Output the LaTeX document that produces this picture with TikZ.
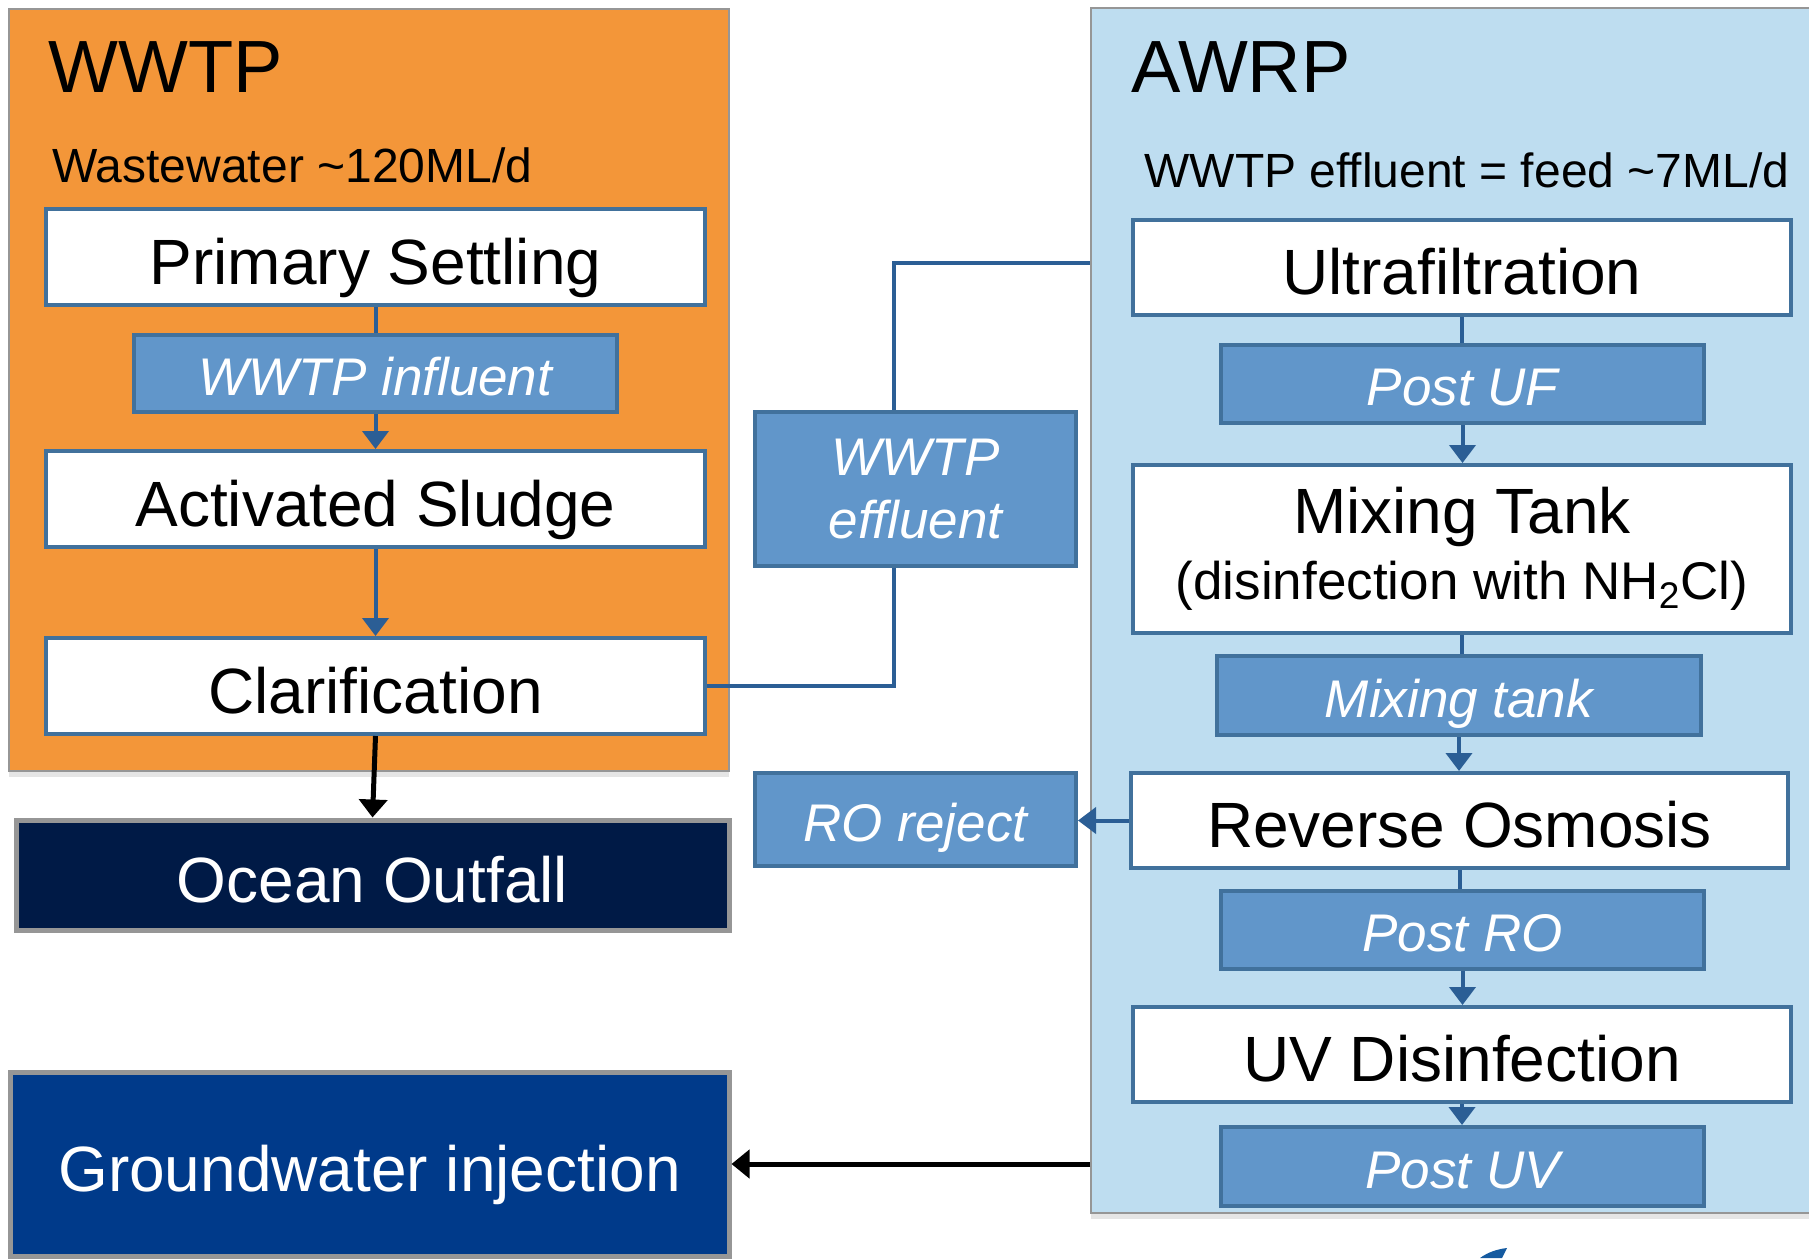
\documentclass[tikz,border=0pt]{standalone}
\usepackage{fontspec}
\setmainfont{Liberation Sans}
\usetikzlibrary{arrows.meta,fit,shadows}
\definecolor{wwtporange}{RGB}{243,150,57}
\definecolor{awrpfill}{RGB}{190,221,240}
\definecolor{outergray}{RGB}{150,150,150}
\definecolor{boxborder}{RGB}{65,113,156}
\definecolor{samplefill}{RGB}{97,150,202}
\definecolor{connblue}{RGB}{43,94,149}
\definecolor{navybox}{RGB}{0,26,70}
\definecolor{gwblue}{RGB}{0,58,138}
\definecolor{logoblue}{RGB}{20,90,160}
\begin{document}
\begin{tikzpicture}[x=0.5pt,y=-0.5pt,
  plant/.style={draw=outergray, line width=1pt, inner sep=0pt,
    drop shadow={opacity=0.2,shadow xshift=0pt,shadow yshift=-3pt}},
  procbase/.style={draw=boxborder, line width=2pt, fill=white, inner sep=0pt,
    text=black, align=center},
  proc/.style={procbase, font=\fontsize{32}{38}\selectfont,
    text height=27pt, text depth=0pt},
  samplebase/.style={draw=boxborder, line width=2pt, fill=samplefill, inner sep=0pt,
    text=white, align=center},
  sample/.style={samplebase, font=\fontsize{26.5}{31.5}\selectfont\itshape,
    text height=21.5pt, text depth=0pt},
  dest/.style={draw=outergray, line width=2.5pt, inner sep=0pt,
    font=\fontsize{32}{38}\selectfont, text=white, text height=27pt, text depth=0pt},
  title/.style={anchor=base west, inner sep=0pt, font=\fontsize{37}{44}\selectfont},
  subtitle/.style={anchor=base west, inner sep=0pt, font=\fontsize{24}{29}\selectfont},
  conn/.style={draw=connblue, line width=2pt},
  arr/.style={conn, -{Triangle[length=9pt,width=13pt]}},
  blackarr/.style={draw=black, line width=2.5pt, -{Triangle[length=9pt,width=14pt]}}
]
\useasboundingbox (0,0) rectangle (1809,1258);
\fill[white] (0,0) rectangle (1809,1258);

% plant containers
\node[plant, fill=wwtporange, fit={(9,9)(729,771)}] (wwtp) {};
\node[plant, fill=awrpfill, fit={(1091,8)(1830,1213)}] (awrp) {};

\node[title] (wwtpt) at (48,92) {WWTP};
\node[subtitle] (wwtps) at (52,182) {Wastewater \char"7E 120ML/d};
\node[title] (awrpt) at (1131,92) {AWRP};
\node[subtitle] (awrps) at (1144,187) {WWTP effluent = feed \char"7E 7ML/d};

% WWTP process
\node[proc, minimum width=329.5pt, minimum height=48pt] (ps) at (375.5,257) {Primary Settling};
\node[sample, minimum width=241.5pt, minimum height=38.5pt] (inf) at (375.5,373.5) {WWTP influent};
\node[proc, minimum width=329.5pt, minimum height=48pt] (as) at (375.5,499) {Activated Sludge};
\node[proc, minimum width=329.5pt, minimum height=48pt] (clar) at (375.5,686) {Clarification};

% destinations
\node[dest, fill=navybox, minimum width=356.5pt, minimum height=55pt] (ocean) at (372.5,875) {Ocean Outfall};
\node[dest, fill=gwblue, minimum width=359.5pt, minimum height=92pt] (gw) at (369.5,1164) {Groundwater injection};

% samples outside
\node[samplebase, font=\fontsize{26.5}{31.5}\selectfont\itshape,
  minimum width=160.5pt, minimum height=77pt] (eff) at (915.5,489) {WWTP\\effluent};
\node[sample, minimum width=160.5pt, minimum height=46.5pt] (rej) at (915.5,819.5) {RO reject};

% AWRP process
\node[proc, minimum width=329pt, minimum height=47.5pt] (uf) at (1462,267.5) {Ultrafiltration};
\node[sample, minimum width=241.5pt, minimum height=39pt] (puf) at (1462.5,384) {Post UF};
\node[procbase, font=\fontsize{32}{33}\selectfont, minimum width=329pt, minimum height=84pt]
  (mt) at (1462,549) {Mixing Tank\\{\fontsize{26.5}{31}\selectfont (disinfection with NH\textsubscript{2}Cl)}};
\node[sample, minimum width=242pt, minimum height=39.5pt] (mts) at (1459,695.5) {Mixing tank};
\node[proc, minimum width=328.5pt, minimum height=47.5pt] (ro) at (1459.5,820.5) {Reverse Osmosis};
\node[sample, minimum width=241.5pt, minimum height=39pt] (pro) at (1462.5,930) {Post RO};
\node[proc, minimum width=329pt, minimum height=47.5pt] (uv) at (1462,1054.5) {UV Disinfection};
\node[sample, minimum width=241.5pt, minimum height=39.5pt] (puv) at (1462.5,1166.5) {Post UV};

% connectors WWTP
\draw[conn] (ps.south) -- (ps.south |- inf.north);
\draw[arr] (inf.south) -- (inf.south |- as.north);
\draw[arr] (as.south) -- (as.south |- clar.north);
\draw[blackarr] (clar.south) -- (ocean.north);

% WWTP effluent path
\coordinate (effx) at (894,263);
\draw[conn] (clar.east) -| (eff.south -| effx);
\draw[conn] (eff.north -| effx) -- (effx) -- (effx -| awrp.west);

% AWRP chain
\draw[conn] (uf.south) -- (uf.south |- puf.north);
\draw[arr] (puf.south) -- (puf.south |- mt.north);
\draw[conn] (mt.south) -- (mt.south |- mts.north);
\draw[arr] (mts.south) -- (mts.south |- ro.north);
\draw[conn] (ro.south) -- (ro.south |- pro.north);
\draw[arr] (pro.south) -- (pro.south |- uv.north);
\draw[arr] (uv.south) -- (uv.south |- puv.north);

% RO reject
\draw[arr] (ro.west) -- (ro.west -| rej.east);

% to groundwater
\draw[blackarr] (gw.east -| awrp.west) -- (gw.east);

% partial logo
\fill[logoblue] (1480,1258) .. controls (1488,1252) and (1498,1249) .. (1507,1248)
  -- (1502,1258) -- cycle;
\end{tikzpicture}
\end{document}
